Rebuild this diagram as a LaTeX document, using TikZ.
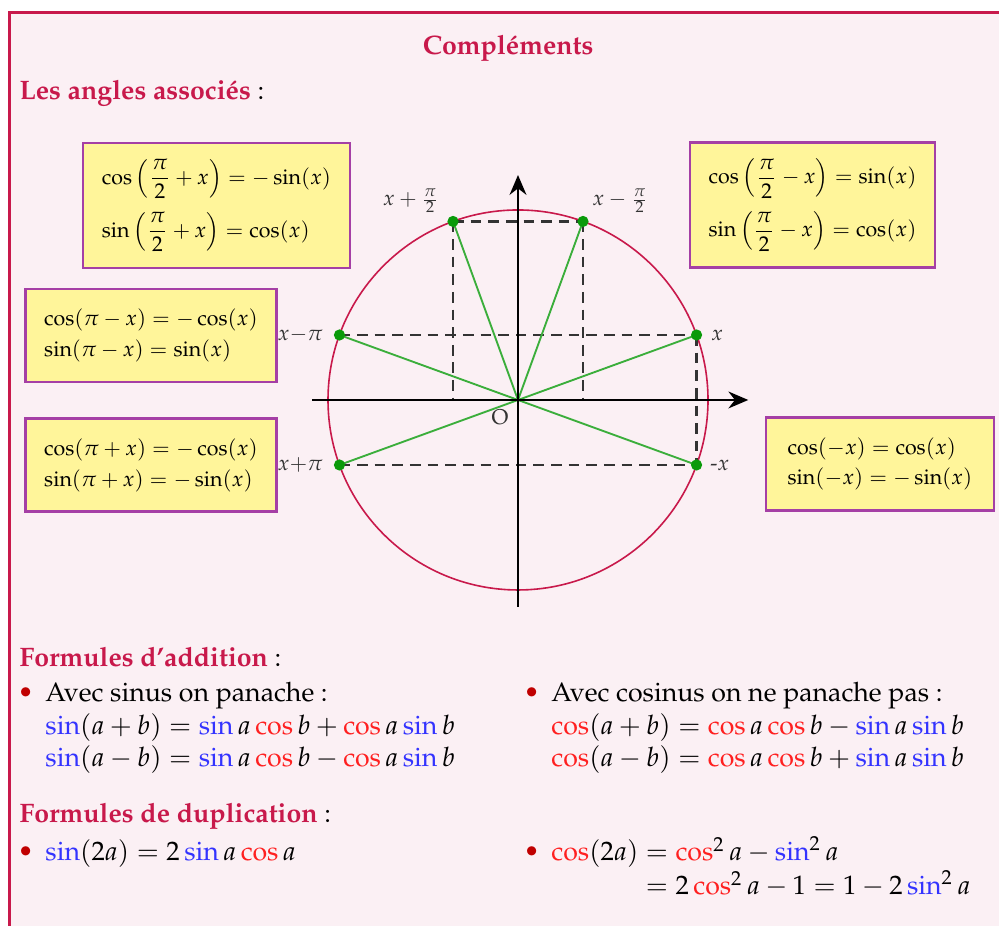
\documentclass[tikz,border=0pt]{standalone}
\usepackage[T1]{fontenc}
\usepackage{mathpazo}
\usepackage{xcolor}
\usepackage{tikz}
\usetikzlibrary{arrows.meta,positioning}
\definecolor{Cadre}{HTML}{C8194B}
\definecolor{Fond}{HTML}{FBF0F4}
\definecolor{Jaune}{HTML}{FFF59A}
\definecolor{Violet}{HTML}{A53FA5}
\definecolor{Vert}{HTML}{0A9A0A}
\definecolor{SinBleu}{HTML}{3333FF}
\definecolor{CosRouge}{HTML}{FF2020}
\definecolor{Puce}{HTML}{C00000}
\newcommand{\bsin}{\mathop{\textcolor{SinBleu}{\sin}}\nolimits}
\newcommand{\rcos}{\mathop{\textcolor{CosRouge}{\cos}}\nolimits}
\newcommand{\rubrique}[1]{\textcolor{Cadre}{\textbf{#1}}}
\newcommand{\puce}{\textcolor{Puce}{\textbullet}}

\begin{document}
\begin{tikzpicture}[
  texte/.style={inner sep=0pt, anchor=base west},
  boite/.style={draw=Violet, line width=0.9pt, fill=Jaune, inner xsep=7pt, inner ysep=7.5pt, align=left, font=\footnotesize},
  point/.style={circle, fill=Vert, inner sep=0pt, minimum size=4.2pt},
  rayon/.style={Vert!80!white, line width=0.7pt},
  pointille/.style={black!80, line width=1pt, dash pattern=on 4pt off 2.6pt},
  axe/.style={-{Stealth[length=2.6mm, width=2.2mm]}, line width=1.1pt},
  lbl/.style={inner sep=2pt, text=black!80, font=\footnotesize}
]
  \useasboundingbox (-6.816,-6.921) rectangle (6.329,5.263);
  \clip (-6.816,-6.921) rectangle (6.329,5.263);
  \draw[Cadre, line width=1.1pt, fill=Fond] (-6.697,5.099) rectangle (7,-7.5);

  \node[inner sep=0pt, anchor=base, font=\bfseries, text=Cadre] (titre) at (-0.13,4.55) {Compl\'ements};
  \node[texte] (angles) at (-6.566,3.96) {\rubrique{Les angles associ\'es} :};

  \coordinate (O) at (0,0);
  \draw[Cadre, line width=0.6pt] (O) circle (2.5);
  \foreach \n/\a in {px/20, pxmpi2/70, pxppi2/110, pxmpi/160, pxppi/200, pmx/340}
    \coordinate (\n) at (\a:2.5);
  \coordinate (hx1) at (pxppi2 |- O);
  \coordinate (hx2) at (pxmpi2 |- O);

  \draw[pointille] (pxppi2) -- (pxmpi2);
  \draw[pointille] (pxmpi) -- (px);
  \draw[pointille] (pxppi) -- (pmx);
  \draw[pointille] (pxppi2) -- (hx1);
  \draw[pointille] (pxmpi2) -- (hx2);
  \draw[pointille] (px) -- (pmx);

  \foreach \n in {px, pxmpi2, pxppi2, pxmpi, pxppi, pmx}
    \draw[rayon] (O) -- (\n);

  \coordinate (xmin) at (-2.71,0);
  \coordinate (xmax) at (3.03,0);
  \coordinate (ymin) at (0,-2.72);
  \coordinate (ymax) at (0,2.96);
  \draw[axe] (xmin) -- (xmax);
  \draw[axe] (ymin) -- (ymax);

  \foreach \n in {px, pxmpi2, pxppi2, pxmpi, pxppi, pmx}
    \node[point] (d\n) at (\n) {};

  \node[lbl, above left=1pt and 3pt of pxppi2] (lxppi2) {$x+\frac{\pi}{2}$};
  \node[lbl, above right=1pt and 1.4pt of pxmpi2] (lxmpi2) {$x-\frac{\pi}{2}$};
  \node[lbl, left=4pt of pxmpi] (lxmpi) {$x{-}\pi$};
  \node[lbl, left=4pt of pxppi] (lxppi) {$x{+}\pi$};
  \node[lbl, right=3.3pt of px] (lx) {$x$};
  \node[lbl, right=3pt of pmx] (lmx) {-$x$};
  \node[lbl, below left=1.4pt and 1.4pt of O] (lO) {O};

  \node[boite, inner ysep=6pt] (b1) at (-3.967,2.559) {$\displaystyle\cos\left(\frac{\pi}{2}+x\right)=-\sin(x)$\\[4pt]$\displaystyle\sin\left(\frac{\pi}{2}+x\right)=\cos(x)$};
  \node[boite, inner ysep=6pt] (b2) at (3.875,2.566) {$\displaystyle\cos\left(\frac{\pi}{2}-x\right)=\sin(x)$\\[4pt]$\displaystyle\sin\left(\frac{\pi}{2}-x\right)=\cos(x)$};
  \node[boite] (b3) at (-4.829,0.849) {$\cos(\pi-x)=-\cos(x)$\\[2pt]$\sin(\pi-x)=\sin(x)$};
  \node[boite, below=0.45cm of b3] (b4) {$\cos(\pi+x)=-\cos(x)$\\[2pt]$\sin(\pi+x)=-\sin(x)$};
  \node[boite, minimum width=3cm] (b5) at (4.763,-0.842) {$\cos(-x)=\cos(x)$\\[2pt]$\sin(-x)=-\sin(x)$};

  \node[texte] (addition) at (-6.566,-3.513) {\rubrique{Formules d'addition} :};
  \node[texte] (addsin) at (-6.592,-3.974) {\begin{tabular}[t]{@{}l@{\hspace{4.4pt}}l@{}}
    \puce & Avec sinus on panache :\\
    & $\bsin(a+b)=\bsin a\rcos b+\rcos a\bsin b$\\
    & $\bsin(a-b)=\bsin a\rcos b-\rcos a\bsin b$
  \end{tabular}};
  \node[texte] (addcos) at (0.066,-3.974) {\begin{tabular}[t]{@{}l@{\hspace{4.4pt}}l@{}}
    \puce & Avec cosinus on ne panache pas :\\
    & $\rcos(a+b)=\rcos a\rcos b-\bsin a\bsin b$\\
    & $\rcos(a-b)=\rcos a\rcos b+\bsin a\bsin b$
  \end{tabular}};

  \node[texte] (duplication) at (-6.566,-5.566) {\rubrique{Formules de duplication} :};
  \node[texte] (dupsin) at (-6.592,-6.066) {\begin{tabular}[t]{@{}l@{\hspace{4.4pt}}l@{}}
    \puce & $\bsin(2a)=2\bsin a\rcos a$
  \end{tabular}};
  \node[texte] (dupcos) at (0.066,-6.066) {\begin{tabular}[t]{@{}l@{\hspace{4.4pt}}l@{}}
    \puce & $\rcos(2a)=\rcos^2 a-\bsin^2 a$\\
    & $\phantom{\rcos(2a)}=2\rcos^2 a-1=1-2\bsin^2 a$
  \end{tabular}};
\end{tikzpicture}
\end{document}
